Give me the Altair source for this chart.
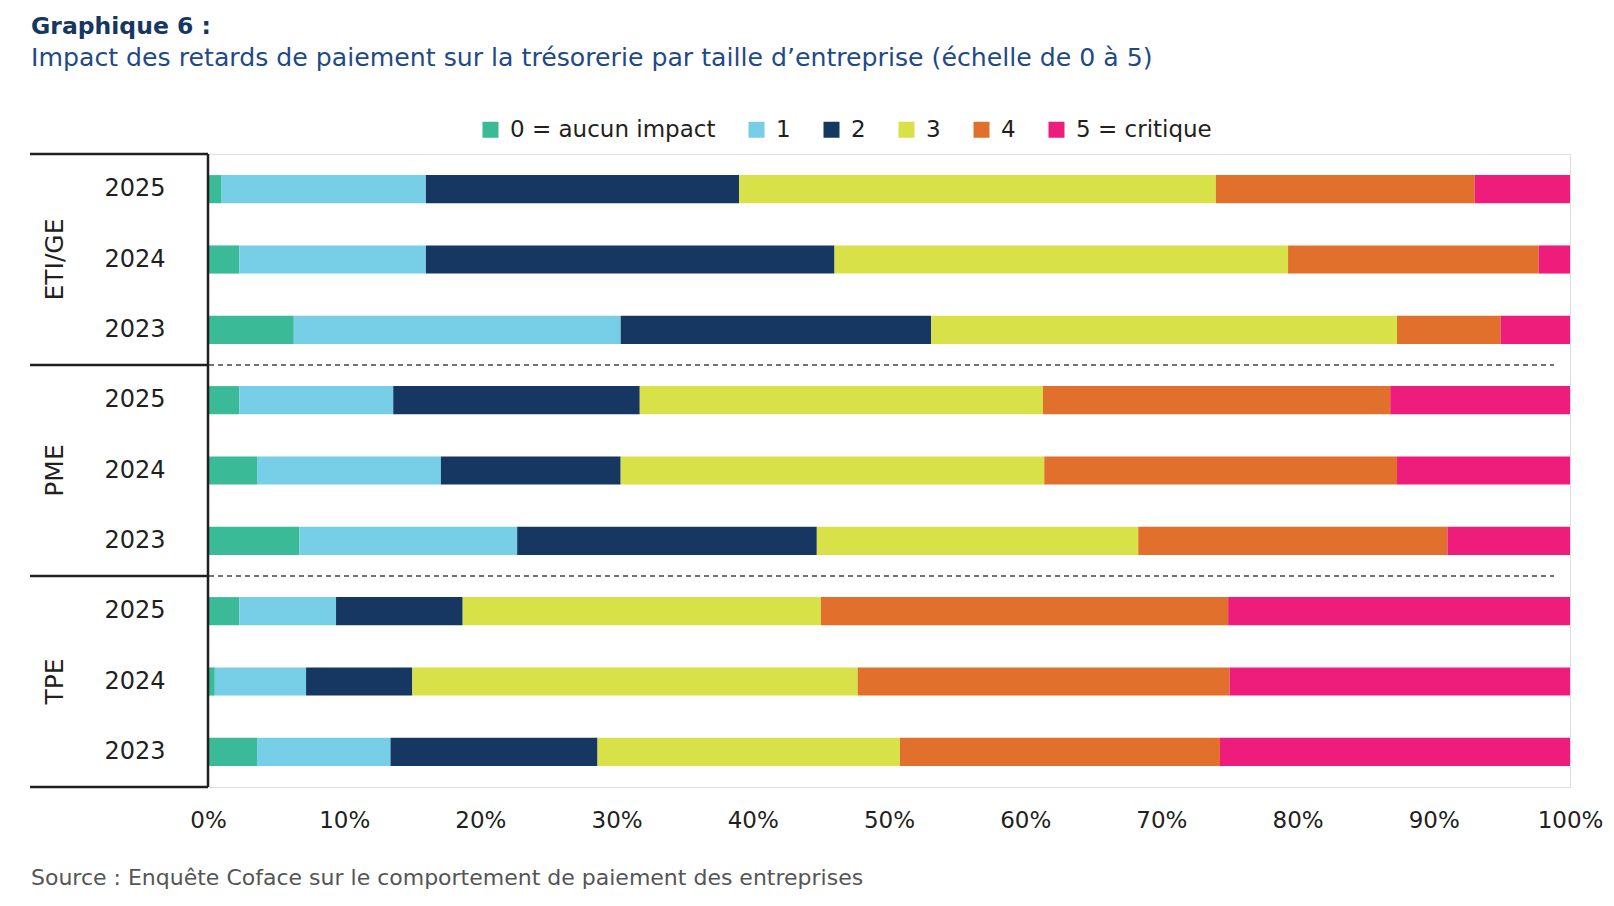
import altair as alt
import pandas as pd

# ---------------- data ----------------
groups = ["ETI/GE", "ETI/GE", "ETI/GE", "PME", "PME", "PME", "TPE", "TPE", "TPE"]
years = ["2025", "2024", "2023", "2025", "2024", "2023", "2025", "2024", "2023"]

levels = ["0 = aucun impact", "1", "2", "3", "4", "5 = critique"]
level_colors = ["#3aba96", "#76cfe7", "#163761", "#d9e148", "#e0702c", "#ee1d7b"]

# percentage of firms per impact level, one value per row (same order as groups/years)
lvl0 = [1.0, 2.3, 6.3, 2.3, 3.6, 6.7, 2.3, 0.5, 3.6]
lvl1 = [15.0, 13.7, 24.0, 11.3, 13.5, 16.0, 7.1, 6.7, 9.8]
lvl2 = [23.0, 30.0, 22.8, 18.1, 13.2, 22.0, 9.3, 7.8, 15.2]
lvl3 = [35.0, 33.3, 34.2, 29.6, 31.1, 23.6, 26.3, 32.7, 22.2]
lvl4 = [19.0, 18.4, 7.6, 25.5, 25.9, 22.7, 29.9, 27.3, 23.5]
lvl5 = [7.0, 2.3, 5.1, 13.2, 12.7, 9.0, 25.1, 25.0, 25.7]
series = [lvl0, lvl1, lvl2, lvl3, lvl4, lvl5]

x_ticks = [0, 10, 20, 30, 40, 50, 60, 70, 80, 90, 100]

title_text = "Graphique 6 :"
subtitle_text = "Impact des retards de paiement sur la trésorerie par taille d’entreprise (échelle de 0 à 5)"
source_text = "Source : Enquête Coface sur le comportement de paiement des entreprises"

# ---------------- layout constants ----------------
W, H = 1362, 633
FONT = "DejaVu Sans"
INK = "#231f20"

row_keys = [f"{g} {y}" for g, y in zip(groups, years)]

rows = []
for i, key in enumerate(row_keys):
    for j, lev in enumerate(levels):
        rows.append({"row": key, "level": lev, "order": j, "value": series[j][i]})
df = pd.DataFrame(rows)

df_years = pd.DataFrame({"row": row_keys, "year": years})
group_names = ["ETI/GE", "PME", "TPE"]
df_groups = pd.DataFrame({"row": [row_keys[1], row_keys[4], row_keys[7]], "grp": group_names})

yscale = alt.Scale(domain=row_keys, paddingInner=0.6, paddingOuter=0.3)

bars = alt.Chart(df).mark_bar().encode(
    x=alt.X("value:Q", stack="zero",
            scale=alt.Scale(domain=[0, 100], nice=False),
            axis=alt.Axis(values=x_ticks, labelExpr="datum.value + '%'", title=None,
                          domain=False, ticks=False, grid=False,
                          labelFontSize=23, labelColor=INK, labelFont=FONT,
                          labelPadding=22, labelFlush=False)),
    y=alt.Y("row:N", scale=yscale, axis=None),
    color=alt.Color("level:N", scale=alt.Scale(domain=levels, range=level_colors),
                    legend=alt.Legend(title=None, orient="none", direction="horizontal",
                                      legendX=271, legendY=-36,
                                      symbolType="square", symbolSize=256,
                                      symbolStrokeWidth=0, symbolOpacity=1,
                                      labelFontSize=23, labelFont=FONT, labelColor=INK,
                                      labelLimit=0, labelOffset=8, columnPadding=29)),
    order=alt.Order("order:Q", sort="ascending"),
)

year_text = alt.Chart(df_years).mark_text(
    fontSize=24, font=FONT, color=INK, align="center", baseline="middle"
).encode(y=alt.Y("row:N", scale=yscale, axis=None), x=alt.value(-73), text="year:N")

group_text = alt.Chart(df_groups).mark_text(
    fontSize=25, font=FONT, color=INK, align="center", baseline="middle", angle=270
).encode(y=alt.Y("row:N", scale=yscale, axis=None), x=alt.value(-153), text="grp:N")

one = pd.DataFrame({"k": [0]})

vline = alt.Chart(one).mark_rule(color=INK, strokeWidth=2.5).encode(
    x=alt.value(0), y=alt.value(0), y2=alt.value(H))

hsegs = []
for frac in [0, 1 / 3, 2 / 3, 1]:
    hsegs.append(alt.Chart(one).mark_rule(color=INK, strokeWidth=2.5).encode(
        x=alt.value(-178), x2=alt.value(0), y=alt.value(H * frac)))

dashes = []
for frac in [1 / 3, 2 / 3]:
    dashes.append(alt.Chart(one).mark_rule(color="#444444", strokeWidth=1.5, strokeDash=[5, 4]).encode(
        x=alt.value(1), x2=alt.value(1346), y=alt.value(H * frac)))

title_mark = alt.Chart(pd.DataFrame({"t": [title_text]})).mark_text(
    fontSize=23.5, font=FONT, fontWeight="bold", color="#163761", align="left", baseline="alphabetic"
).encode(x=alt.value(-177), y=alt.value(-120), text="t:N")

subtitle_mark = alt.Chart(pd.DataFrame({"t": [subtitle_text]})).mark_text(
    fontSize=25.2, font=FONT, color="#1f4a86", align="left", baseline="alphabetic"
).encode(x=alt.value(-177), y=alt.value(-88), text="t:N")

source_mark = alt.Chart(pd.DataFrame({"t": [source_text]})).mark_text(
    fontSize=22, font=FONT, color="#555555", align="left", baseline="alphabetic"
).encode(x=alt.value(-177), y=alt.value(731), text="t:N")

chart = alt.layer(
    bars, year_text, group_text, vline, *hsegs, *dashes, title_mark, subtitle_mark, source_mark
).properties(
    width=W, height=H,
    autosize=alt.AutoSizeParams(type="none"),
    padding={"left": 200, "top": 146, "right": 36, "bottom": 110},
).configure_view(strokeWidth=0, stroke="transparent").configure(background="white")

chart.save("out.html", embed_options={"renderer": "svg", "actions": False})
